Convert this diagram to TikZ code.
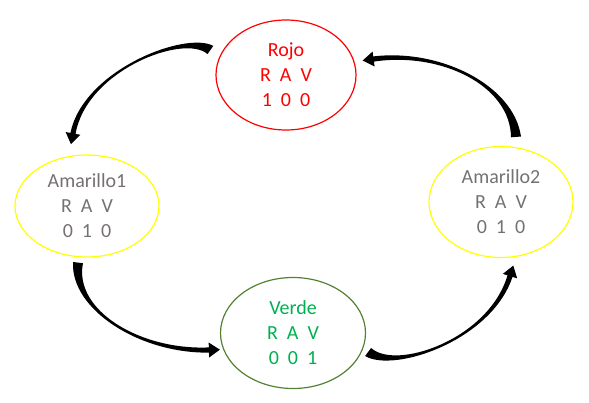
\documentclass[tikz,border=0pt]{standalone}
\usepackage{fontspec}
\setmainfont{Carlito}
\usepackage{tikz}
\usetikzlibrary{calc,positioning,shapes}
\definecolor{rojoline}{RGB}{255,0,0}
\definecolor{amarilloline}{RGB}{255,255,0}
\definecolor{amarillotext}{RGB}{118,113,113}
\definecolor{verdeline}{RGB}{84,130,53}
\definecolor{verdetext}{RGB}{0,176,80}
\tikzset{
  light node/.style={
    shape=ellipse,
    draw,
    line width=1.2pt,
    inner sep=0pt,
    minimum width=142pt,
    minimum height=108pt,
    align=center,
    font=\fontsize{20}{25}\selectfont
  }
}
% tapered curved arrow: start, control 1, control 2, end
\newcommand{\bentarrow}[4]{%
  \fill ($(#1)!5pt!90:(#2)$) .. controls ($(#2)!1.6pt!-90:(#1)$) and ($(#3)!1.6pt!90:(#4)$) .. ($(#4)!2.6pt!-90:(#3)$)
    -- ($(#4)!7.5pt!-90:(#3)$) -- ($(#4)!-11pt!(#3)$) -- ($(#4)!7.5pt!90:(#3)$)
    -- ($(#4)!2.6pt!90:(#3)$) .. controls ($(#3)!1.6pt!-90:(#4)$) and ($(#2)!1.6pt!90:(#1)$) .. ($(#1)!5pt!-90:(#2)$)
    -- cycle;
}

\begin{document}
\begin{tikzpicture}[x=1pt,y=-1pt]
  \useasboundingbox (0,0) rectangle (589,402);
  \node (rojo) [light node,draw=rojoline,text=rojoline,minimum width=140pt,minimum height=110pt] at (286,75) {Rojo\\R~~A~~V\\1~~0~~0};
  \node (amarillo1) [light node,draw=amarilloline,text=amarillotext,minimum width=144pt,minimum height=102pt] at (87,206) {Amarillo1\\R~~A~~V\\0~~1~~0};
  \node (amarillo2) [light node,draw=amarilloline,text=amarillotext,minimum width=144pt,minimum height=111pt] at (501,202) {Amarillo2\\R~~A~~V\\0~~1~~0};
  \node (verde) [light node,draw=verdeline,text=verdetext,minimum width=145pt,minimum height=111pt] at (293,333) {Verde\\R~~A~~V\\0~~0~~1};
  % arrow ends
  \coordinate (rojo out) at ($(rojo.west)+(-5,-25)$);
  \coordinate (amarillo1 in) at ($(amarillo1.north)+(-14,-21)$);
  \coordinate (amarillo1 out) at ($(amarillo1.south)+(-9,5)$);
  \coordinate (verde in) at ($(verde.west)+(-11,17)$);
  \coordinate (verde out) at ($(verde.east)+(2,19)$);
  \coordinate (amarillo2 in) at ($(amarillo2.south)+(9,18)$);
  \coordinate (amarillo2 out) at ($(amarillo2.north)+(15,-9)$);
  \coordinate (rojo in) at ($(rojo.east)+(17,-16)$);
  \bentarrow{rojo out}{185,32}{85,70}{amarillo1 in}
  \bentarrow{amarillo1 out}{72,310}{140,352}{verde in}
  \bentarrow{verde out}{395,372}{490,340}{amarillo2 in}
  \bentarrow{amarillo2 out}{512,85}{440,50}{rojo in}
\end{tikzpicture}
\end{document}
